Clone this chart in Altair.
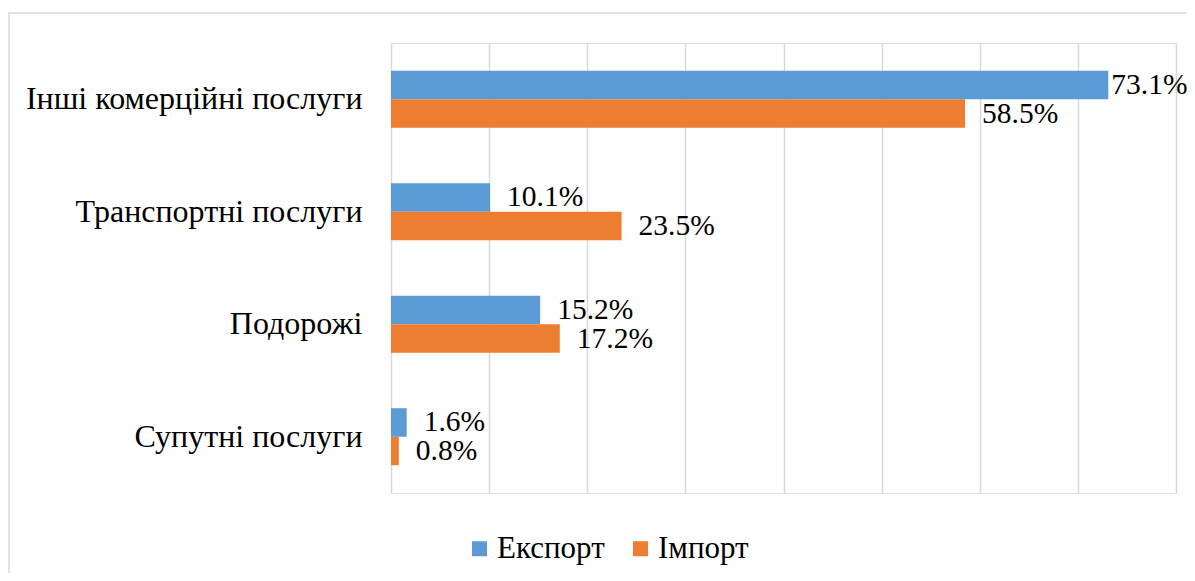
import altair as alt
import pandas as pd

categories = ["Інші комерційні послуги", "Транспортні послуги", "Подорожі", "Супутні послуги"]
series = ["Експорт", "Імпорт"]
export_vals = [73.1, 10.1, 15.2, 1.6]
import_vals = [58.5, 23.5, 17.2, 0.8]
colors = ["#5B9BD5", "#ED7D31"]
grid_ticks = [0, 10, 20, 30, 40, 50, 60, 70, 80]

rows = []
for c, e, i in zip(categories, export_vals, import_vals):
    rows.append({"cat": c, "series": series[0], "v": e, "label": f"{e:.1f}%"})
    rows.append({"cat": c, "series": series[1], "v": i, "label": f"{i:.1f}%"})
df = pd.DataFrame(rows)
vmax = max(export_vals + import_vals)

FONT = "Liberation Serif"
FS_AXIS = 32
FS_LABEL = 29.5
FS_LEGEND = 31

y_enc = alt.Y("cat:N", sort=categories, title=None,
              scale=alt.Scale(paddingInner=0.493, paddingOuter=0.2465),
              axis=alt.Axis(labelFont=FONT, labelFontSize=FS_AXIS, labelColor="#000000",
                            ticks=False, domain=False, labelPadding=29, labelLimit=600))
yoff = alt.YOffset("series:N", sort=series)
x_enc = alt.X("v:Q", title=None,
              scale=alt.Scale(domain=[0, 80], nice=False),
              axis=alt.Axis(values=grid_ticks, labels=False, ticks=False, domain=False,
                            grid=True, gridColor="#d9d9d9", gridWidth=1.5))

base = alt.Chart(df)

border = alt.Chart(pd.DataFrame({"a": [0]})).mark_rect(
    fill=None, stroke="#d9d9d9", strokeWidth=1.5, clip=False
).encode(x=alt.value(-382), x2=alt.value(1200), y=alt.value(-30), y2=alt.value(700))

bars = base.mark_bar().encode(
    x=x_enc, y=y_enc, yOffset=yoff,
    color=alt.Color("series:N", sort=series,
                    scale=alt.Scale(domain=series, range=colors),
                    legend=alt.Legend(title=None, orient="none", direction="horizontal",
                                      legendX=73, legendY=490,
                                      labelFont=FONT, labelFontSize=FS_LEGEND, labelColor="#000000",
                                      symbolType="square", symbolSize=225,
                                      symbolStrokeWidth=0, columnPadding=20, labelOffset=2)),
)

labels = base.transform_filter(alt.datum.v < vmax).mark_text(
    align="left", baseline="middle", dx=17, font=FONT, fontSize=FS_LABEL, color="#000000"
).encode(x="v:Q", y=alt.Y("cat:N", sort=categories), yOffset=yoff, text="label:N")

labels_max = base.transform_filter(alt.datum.v >= vmax).mark_text(
    align="left", baseline="middle", dx=3, font=FONT, fontSize=FS_LABEL, color="#000000"
).encode(x="v:Q", y=alt.Y("cat:N", sort=categories), yOffset=yoff, text="label:N")

chart = alt.layer(border, bars, labels, labels_max).properties(
    width=785, height=450,
    autosize=alt.AutoSizeParams(type="none"),
    padding={"left": 383, "top": 35, "right": 11, "bottom": 80},
).configure_view(stroke=None).configure(background="#ffffff")

chart.save("out.html", embed_options={"renderer": "svg", "actions": False})
